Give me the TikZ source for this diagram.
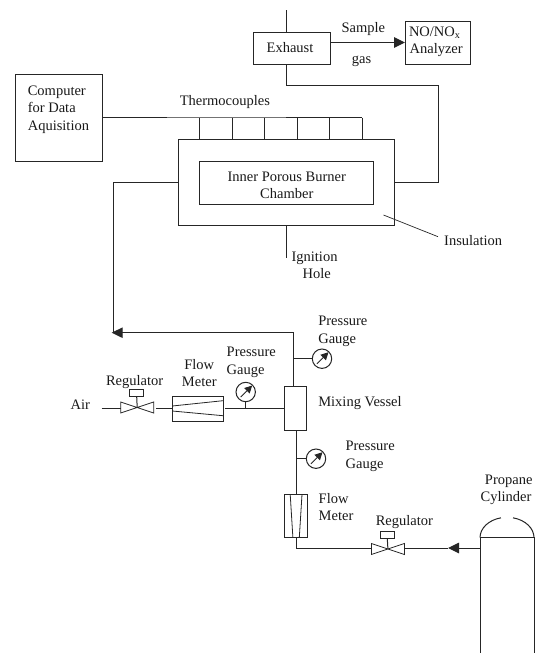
\documentclass[tikz,border=0pt]{standalone}
\usepackage{fontspec}
\setmainfont{Liberation Serif}
\usetikzlibrary{arrows.meta}
\tikzset{
  x=1pt,y=-1pt,
  ln/.style={draw=black!85,line width=1pt},
  box/.style={ln,rectangle,inner sep=0pt,outer sep=0pt,minimum width=#1},
  lbl/.style={anchor=base west,inner sep=0pt,outer sep=0pt,text=black!90,font=\fontsize{14.5}{17}\selectfont},
  lblc/.style={lbl,anchor=base},
  gauge/.style={ln,circle,inner sep=0pt,outer sep=0pt,minimum size=19.4pt},
  flowtip/.style={-{Triangle[length=11pt,width=10.5pt]}},
}
\newcommand{\needle}[1]{\draw[ln,-{Triangle[length=7.5pt,width=7.5pt]},shorten <=2.5pt,shorten >=0.5pt] (#1.225) -- (#1.45);}
\newcommand{\valvesym}[1]{%
  \draw[ln,line width=0.8pt] (#1)++(-16.5,-5.5) -- ++(33,11) -- ++(0,-11) -- ++(-33,11) -- cycle;}
\begin{document}
\begin{tikzpicture}
\useasboundingbox (0,0) rectangle (535,653);
% boxes
\node[box=76.1pt,minimum height=32pt] (exhaust) at (292,48) {};
\node[box=65.7pt,minimum height=43pt] (analyzer) at (437.85,42.5) {};
\node[box=86.8pt,minimum height=86.3pt] (computer) at (59.2,117.85) {};
\node[box=216.1pt,minimum height=86.2pt] (outer) at (286.45,182.6) {};
\node[box=173.5pt,minimum height=43pt] (inner) at (286.45,182.5) {};
\node[box=22pt,minimum height=43.3pt] (vessel) at (295.7,408.35) {};
\node[box=50.7pt,minimum height=24.3pt] (fmA) at (197.65,408.85) {};
\node[box=22.2pt,minimum height=43.4pt] (fmB) at (295.9,516) {};
\node[box=14pt,minimum height=7pt] (regA) at (136.7,393.2) {};
\node[box=14.6pt,minimum height=7.3pt] (regB) at (387.3,535.3) {};
\node[gauge] (gA) at (322,358.7) {};
\node[gauge] (gB) at (245.7,392) {};
\node[gauge] (gC) at (316,458.7) {};
% named junctions
\coordinate (exTop) at (286.4,10);
\coordinate (exIn) at (286.4,32);
\coordinate (exBot) at (286.4,64);
\coordinate (retA) at (286.4,85.5);
\coordinate (retB) at (438,85.5);
\coordinate (retC) at (438,182.5);
\coordinate (tcA) at (167,117.5);
\coordinate (tcB) at (286.4,117.5);
\coordinate (tcEnd) at (362.2,117.5);
\coordinate (feedA) at (113.2,182.5);
\coordinate (feedB) at (113.2,332.7);
\coordinate (feedTip) at (111.7,332.7);
\coordinate (feedUp) at (293.7,332.7);
\coordinate (feedDn) at (293.7,386.7);
\coordinate (ignBot) at (286.4,257.7);
\coordinate (insA) at (383.5,215);
\coordinate (insB) at (438,236.7);
\coordinate (airA) at (101.7,408);
\coordinate (valveA) at (137.2,407.5);
\coordinate (valveB) at (387.9,549);
\coordinate (cylTL) at (480,537.7);
\coordinate (cylTR) at (534,537.7);
\coordinate (cylBL) at (480,653);
\coordinate (cylBR) at (534,653);
\coordinate (arrB) at (448,548);
\coordinate (corner) at (296,548);
% exhaust side
\draw[ln] (exTop) -- (exIn);
\draw[ln,flowtip] (exhaust.east |- analyzer.center) -- (analyzer.west |- analyzer.center);
\draw[ln] (exBot) -- (retA) -- (retB) -- (retC) -- (outer.east |- retC);
% thermocouples
\draw[ln] (computer.east |- tcA) -- (tcA);
\draw[draw=black!55,line width=0.5pt] (tcA) -- (tcB);
\draw[ln] (tcB) -- (tcEnd);
\foreach \tx in {199.7,232.2,264.8,297.4,329.7,362.2}
  \draw[ln] (\tx,117.5) -- (\tx,139.5);
% feed to burner
\draw[ln] (outer.west |- feedA) -- (feedA) -- (feedB);
\draw[ln,flowtip] (feedUp) -- (feedTip);
\draw[ln] (feedUp) -- (feedDn);
\draw[ln] (outer.south -| exBot) -- (ignBot);
\draw[draw=black!85,line width=0.7pt] (insA) -- (insB);
% air line
\valvesym{valveA}
\draw[ln] (airA) -- (121,408);
\draw[ln] (156,408) -- (fmA.west |- airA);
\draw[ln] (225,408) -- (vessel.west |- airA);
\draw[ln] (regA.south) -- (valveA);
% flow meter A inside
\draw[ln,line width=0.8pt] (172.3,406) -- (223,400.7);
\draw[ln,line width=0.8pt] (172.3,411) -- (223,415.7);
% gauges
\draw[ln] (feedUp |- gA) -- (gA.west);
\draw[ln] (gB.south) -- (gB.center |- airA);
\draw[ln] (296,430) -- (296,494.3);
\draw[ln] (296,458.7) -- (gC.west);
\needle{gA}
\needle{gB}
\needle{gC}
% flow meter B inside
\draw[ln,line width=0.8pt] (290.2,494.3) -- (292.9,537.7);
\draw[ln,line width=0.8pt] (302,494.3) -- (299.3,537.7);
% propane line
\draw[ln] (296,537.7) -- (corner) -- (371.4,548);
\valvesym{valveB}
\draw[ln] (regB.south) -- (valveB);
\draw[ln] (404.6,548) -- (arrB);
\draw[ln,flowtip] (cylTL |- arrB) -- (arrB);
% cylinder
\draw[ln] (cylBL) -- (cylTL) -- (cylTR) -- (cylBR);
\draw[ln] (cylTL) arc[start angle=180,end angle=103,x radius=27pt,y radius=20.4pt];
\draw[ln] (cylTR) arc[start angle=0,end angle=77,x radius=27pt,y radius=20.4pt];
% labels
\node[lblc] (tSample) at (363.3,32.3) {Sample};
\node[lblc] (tGas) at (361.6,63.3) {gas};
\node[lblc] (tExhaust) at (290,52.7) {Exhaust};
\node[lbl] (tNo) at (409,36) {NO/NO\textsubscript{x}};
\node[lbl] (tAn) at (409.6,53.7) {Analyzer};
\node[lbl] (tCa) at (27.8,95) {Computer};
\node[lbl] (tCb) at (27.8,112.3) {for Data};
\node[lbl] (tCc) at (27.8,130) {Aquisition};
\node[lblc] (tTh) at (224.9,105.7) {Thermocouples};
\node[lblc] (tIa) at (286.8,181) {Inner Porous Burner};
\node[lblc] (tIb) at (286.8,198.3) {Chamber};
\node[lbl] (tIns) at (444.2,245.7) {Insulation};
\node[lbl] (tIg) at (291.6,261) {Ignition};
\node[lbl] (tHo) at (302.6,278.3) {Hole};
\node[lbl] (tPa) at (318.3,325.7) {Pressure};
\node[lbl] (tGa) at (318.3,343.3) {Gauge};
\node[lbl] (tPb) at (226.7,356.3) {Pressure};
\node[lbl] (tGb) at (226.7,374) {Gauge};
\node[lblc] (tFa) at (199.3,369) {Flow};
\node[lblc] (tMa) at (199.3,386) {Meter};
\node[lbl] (tRa) at (106,385.3) {Regulator};
\node[lbl] (tAir) at (70.7,409) {Air};
\node[lbl] (tMix) at (318.3,406.7) {Mixing Vessel};
\node[lbl] (tPc) at (345.6,450.7) {Pressure};
\node[lbl] (tGc) at (345.6,468.3) {Gauge};
\node[lbl] (tFb) at (318.7,503.3) {Flow};
\node[lbl] (tMb) at (318.7,520.3) {Meter};
\node[lbl] (tRb) at (375.8,525.3) {Regulator};
\node[lblc] (tPr) at (508.7,484) {Propane};
\node[lblc] (tCy) at (506,501.3) {Cylinder};
\end{tikzpicture}
\end{document}
